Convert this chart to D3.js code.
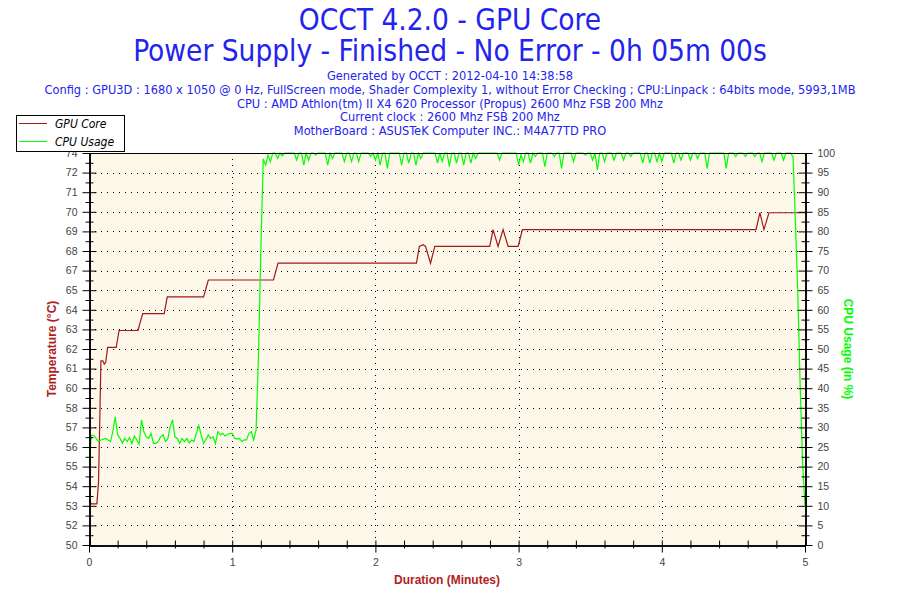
<!DOCTYPE html>
<html>
<head>
<meta charset="utf-8">
<script src="https://cdn.jsdelivr.net/npm/d3@7"></script>
<style>
body { margin: 0; background: #fff; }
text { font-family: "Liberation Sans", Arial, sans-serif; }
.info { font-family: "DejaVu Sans Condensed", "DejaVu Sans", sans-serif; fill: #2323ee; }
</style>
</head>
<body>
<svg id="chart" width="900" height="600"></svg>
<script>
const titleLines = ["OCCT 4.2.0 - GPU Core", "Power Supply - Finished - No Error - 0h 05m 00s"];
const infoLines = [
    "Generated by OCCT : 2012-04-10 14:38:58",
    "Config : GPU3D : 1680 x 1050 @ 0 Hz, FullScreen mode, Shader Complexity 1, without Error Checking ; CPU:Linpack : 64bits mode, 5993,1MB",
    "CPU : AMD Athlon(tm) II X4 620 Processor (Propus) 2600 Mhz FSB 200 Mhz",
    "Current clock : 2600 Mhz FSB 200 Mhz",
    "MotherBoard : ASUSTeK Computer INC.: M4A77TD PRO"
];
const seriesNames = ["GPU Core", "CPU Usage"];

const minuteTicks = [0, 1, 2, 3, 4, 5];
const tempTickLabels = ["50", "52", "53", "54", "55", "56", "57", "58", "60", "61", "62",
                        "63", "64", "65", "67", "68", "69", "70", "71", "72", "74"];
const usageTicks = [0, 5, 10, 15, 20, 25, 30, 35, 40, 45, 50, 55, 60, 65, 70, 75, 80, 85, 90, 95, 100];

// GPU core temperature (°C), breakpoints in seconds
const gpuSeconds = [0, 1, 3.3, 4, 5, 5.8, 6.4, 7, 7.8, 11.4, 12.6, 20.5, 22.5, 31.5, 32.8, 48, 50,
                    77.3, 79.2, 137.2, 138.4, 140, 141, 143.1, 144.9, 167.9, 169.3, 171.4, 173.5,
                    175.6, 179.8, 181.6, 279.5, 281.1, 282.8, 284.9, 300];
const gpuTemp = [52.9, 52.7, 52.7, 54, 61.2, 61.2, 61.0, 61.1, 62.0, 62.0, 63.0, 63.0, 64.0, 64.0, 65.0, 65.0, 66.0,
                 66.0, 67.0, 67.0, 68.0, 68.1, 68.0, 67.0, 68.0, 68.0, 69.0, 68.0, 69.0,
                 68.0, 68.0, 69.0, 69.0, 70.0, 69.0, 70.0, 70.0];

// CPU usage (%), one sample per second, 0..300 s
const cpuUsage = [
    20.4, 28.0, 28.0, 27.2, 26.4, 26.8, 27.0, 27.2, 26.8, 26.4,
    29.0, 32.7, 28.1, 27.2, 26.0, 27.2, 26.4, 27.4, 25.9, 27.8,
    26.8, 25.7, 31.9, 28.9, 27.6, 27.2, 28.5, 25.9, 25.9, 26.4,
    27.6, 28.1, 26.4, 27.0, 30.2, 31.9, 27.6, 27.2, 25.9, 27.2,
    26.4, 27.2, 26.0, 26.8, 26.4, 28.5, 30.5, 28.1, 25.9, 27.0,
    28.1, 27.2, 27.6, 25.9, 28.9, 28.1, 28.5, 27.8, 28.2, 28.5,
    28.5, 27.2, 27.0, 27.2, 26.4, 26.8, 26.8, 28.5, 28.9, 26.8,
    29.3, 48.0, 75.0, 98.5, 96.9, 99.5, 97.8, 100, 100, 98.6,
    100, 99.3, 100, 100, 100, 100, 100, 98.2, 100, 100,
    96.9, 100, 98.2, 100, 100, 99.5, 100, 100, 100, 100,
    96.9, 100, 98.6, 100, 100, 100, 100, 97.8, 100, 100,
    97.8, 100, 100, 97.8, 100, 100, 100, 100, 99.1, 100,
    98.2, 100, 96.9, 100, 100, 96.1, 100, 100, 100, 100,
    100, 96.9, 100, 100, 97.4, 100, 100, 96.9, 100, 98.6,
    100, 100, 100, 100, 100, 100, 97.4, 100, 97.8, 100,
    100, 96.5, 100, 100, 97.4, 100, 100, 96.9, 100, 100,
    97.4, 100, 98.6, 100, 100, 100, 100, 100, 100, 100,
    100, 100, 98.2, 100, 100, 100, 100, 100, 100, 100,
    96.9, 99.5, 97.8, 100, 100, 97.4, 100, 99.1, 100, 100,
    100, 96.5, 100, 100, 100, 99.1, 100, 100, 96.1, 100,
    100, 100, 100, 97.8, 100, 100, 100, 100, 99.5, 100,
    100, 98.2, 100, 95.7, 100, 100, 97.8, 100, 100, 100,
    98.2, 100, 100, 100, 98.2, 100, 100, 99.1, 100, 100,
    100, 100, 97.4, 100, 100, 97.4, 100, 100, 97.8, 100,
    97.8, 100, 100, 100, 100, 97.4, 100, 100, 98.2, 100,
    100, 100, 98.2, 100, 100, 98.6, 100, 100, 100, 96.1,
    100, 100, 100, 100, 100, 100, 100, 96.1, 100, 100,
    100, 99.1, 100, 100, 100, 99.1, 100, 100, 100, 99.1,
    100, 100, 97.8, 100, 100, 100, 100, 98.2, 100, 100,
    100, 98.2, 100, 100, 100, 99.0, 82.0, 64.0, 40.0, 21.0,
    10.0
];

const blue = "#2323ee", red = "#a01818", redTitle = "#b01e1e", green = "#00ff00";
const svg = d3.select("#chart");
const plot = { left: 89, right: 805, top: 153, bottom: 545 };

const x = d3.scaleLinear().domain([0, 5]).range([plot.left, plot.right]);
const yTemp = d3.scaleLinear().domain([50.25, 73.55]).range([plot.bottom, plot.top]);
const yTick = d3.scaleLinear().domain([0, tempTickLabels.length - 1]).range([plot.bottom, plot.top]);
const yUse = d3.scaleLinear().domain([0, 100]).range([plot.bottom, plot.top]);

// titles
svg.selectAll(".title").data(titleLines).enter().append("text")
    .attr("class", "info")
    .attr("x", 450).attr("y", (d, i) => 30 + i * 31)
    .attr("text-anchor", "middle")
    .style("font-size", "29.5px")
    .text(d => d);

svg.selectAll(".sub").data(infoLines).enter().append("text")
    .attr("class", "info")
    .attr("x", 450).attr("y", (d, i) => 80 + i * 13.8)
    .attr("text-anchor", "middle")
    .style("font-size", "12.7px")
    .text(d => d);

// plot background + grid
svg.append("rect")
    .attr("x", plot.left).attr("y", plot.top)
    .attr("width", plot.right - plot.left).attr("height", plot.bottom - plot.top)
    .attr("fill", "#fdf8e9");

const tickIdx = tempTickLabels.map((d, i) => i);
svg.append("g").selectAll("line").data(tickIdx.slice(1, -1)).enter().append("line")
    .attr("x1", plot.left + 6).attr("x2", plot.right - 6)
    .attr("y1", d => Math.round(yTick(d)) + 0.5).attr("y2", d => Math.round(yTick(d)) + 0.5)
    .attr("stroke", "#000").attr("stroke-dasharray", "1,5");

svg.append("g").selectAll("line").data(minuteTicks.slice(1, -1)).enter().append("line")
    .attr("x1", d => Math.round(x(d)) + 0.5).attr("x2", d => Math.round(x(d)) + 0.5)
    .attr("y1", plot.top).attr("y2", plot.bottom - 6)
    .attr("stroke", "#000").attr("stroke-dasharray", "1,5");

// series
const clip = svg.append("clipPath").attr("id", "clip").append("rect")
    .attr("x", plot.left).attr("y", plot.top - 1)
    .attr("width", plot.right - plot.left + 1).attr("height", plot.bottom - plot.top + 1);

const gpuLine = d3.line()
    .x((d, i) => x(gpuSeconds[i] / 60))
    .y(d => yTemp(d));
svg.append("path").datum(gpuTemp)
    .attr("clip-path", "url(#clip)")
    .attr("fill", "none").attr("stroke", red).attr("stroke-width", 1.2)
    .attr("d", gpuLine);

const cpuLine = d3.line()
    .x((d, i) => x(i / 60))
    .y(d => yUse(d));
svg.append("path").datum(cpuUsage)
    .attr("clip-path", "url(#clip)")
    .attr("fill", "none").attr("stroke", green).attr("stroke-width", 1.2)
    .attr("d", cpuLine);

// axes
function styleAxis(g) {
    g.selectAll("path.domain").attr("stroke", "#000");
    g.selectAll("line").attr("stroke", "#000");
    g.selectAll("text").attr("fill", "#444").style("font-size", "10.5px")
        .style("font-family", "'Liberation Sans', Arial, sans-serif");
}

const minorTemp = tickIdx.slice(0, -1).map(i => i + 0.5);
const minorUse = usageTicks.slice(0, -1).map(v => v + 2.5);
const minorMin = d3.range(0, 25).filter(k => k % 5 !== 0).map(k => k / 5);

const left = svg.append("g").attr("transform", `translate(${plot.left + 0.5},0)`);
left.call(d3.axisLeft(yTick).tickValues(tickIdx).tickFormat(i => tempTickLabels[i])
    .tickSize(7).tickSizeOuter(0).tickPadding(5));
left.append("g").call(d3.axisRight(yTick).tickValues(tickIdx).tickFormat("").tickSize(7).tickSizeOuter(0));
left.append("g").call(d3.axisLeft(yTick).tickValues(minorTemp).tickFormat("").tickSize(4).tickSizeOuter(0));
left.append("g").call(d3.axisRight(yTick).tickValues(minorTemp).tickFormat("").tickSize(4).tickSizeOuter(0));
styleAxis(left);

const right = svg.append("g").attr("transform", `translate(${plot.right + 0.5},0)`);
right.call(d3.axisRight(yUse).tickValues(usageTicks).tickSize(7).tickSizeOuter(0).tickPadding(5));
right.append("g").call(d3.axisLeft(yUse).tickValues(usageTicks).tickFormat("").tickSize(7).tickSizeOuter(0));
right.append("g").call(d3.axisRight(yUse).tickValues(minorUse).tickFormat("").tickSize(4).tickSizeOuter(0));
right.append("g").call(d3.axisLeft(yUse).tickValues(minorUse).tickFormat("").tickSize(4).tickSizeOuter(0));
styleAxis(right);

const bottom = svg.append("g").attr("transform", `translate(0,${plot.bottom + 0.5})`);
bottom.call(d3.axisBottom(x).tickValues(minuteTicks).tickFormat(d3.format("d"))
    .tickSize(7).tickSizeOuter(0).tickPadding(6));
bottom.append("g").call(d3.axisTop(x).tickValues(minuteTicks).tickFormat("").tickSize(5).tickSizeOuter(0));
bottom.append("g").call(d3.axisBottom(x).tickValues(minorMin).tickFormat("").tickSize(3).tickSizeOuter(0));
bottom.append("g").call(d3.axisTop(x).tickValues(minorMin).tickFormat("").tickSize(5).tickSizeOuter(0));
styleAxis(bottom);

svg.append("line")
    .attr("x1", plot.left).attr("x2", plot.right + 1)
    .attr("y1", plot.top + 0.5).attr("y2", plot.top + 0.5)
    .attr("stroke", "#000");

// axis titles
svg.append("text")
    .attr("transform", `translate(56,${(plot.top + plot.bottom) / 2}) rotate(-90)`)
    .attr("text-anchor", "middle")
    .style("font-size", "12px").style("font-weight", "bold")
    .attr("fill", redTitle)
    .text("Temperature (°C)");

svg.append("text")
    .attr("transform", `translate(844,${(plot.top + plot.bottom) / 2}) rotate(90)`)
    .attr("text-anchor", "middle")
    .style("font-size", "12px").style("font-weight", "bold")
    .attr("fill", green)
    .text("CPU Usage (in %)");

svg.append("text")
    .attr("x", (plot.left + plot.right) / 2).attr("y", 584)
    .attr("text-anchor", "middle")
    .style("font-size", "12px").style("font-weight", "bold")
    .attr("fill", redTitle)
    .text("Duration (Minutes)");

// legend (drawn last: it covers the top of the "74" label, as in the original)
const legend = svg.append("g").attr("transform", "translate(16,115)");
legend.append("rect")
    .attr("x", 0.5).attr("y", 0.5).attr("width", 108).attr("height", 36)
    .attr("fill", "#fff").attr("stroke", "#000");
const item = legend.selectAll(".item").data(seriesNames).enter().append("g")
    .attr("transform", (d, i) => `translate(0,${8.5 + i * 18})`);
item.append("line")
    .attr("x1", 3).attr("x2", 31)
    .attr("stroke", (d, i) => i === 0 ? red : green);
item.append("text")
    .attr("x", 39).attr("dy", "0.35em")
    .style("font-size", "12px").style("font-style", "italic")
    .style("font-family", "'DejaVu Sans Condensed', sans-serif")
    .attr("fill", "#000")
    .text(d => d);
</script>
</body>
</html>
